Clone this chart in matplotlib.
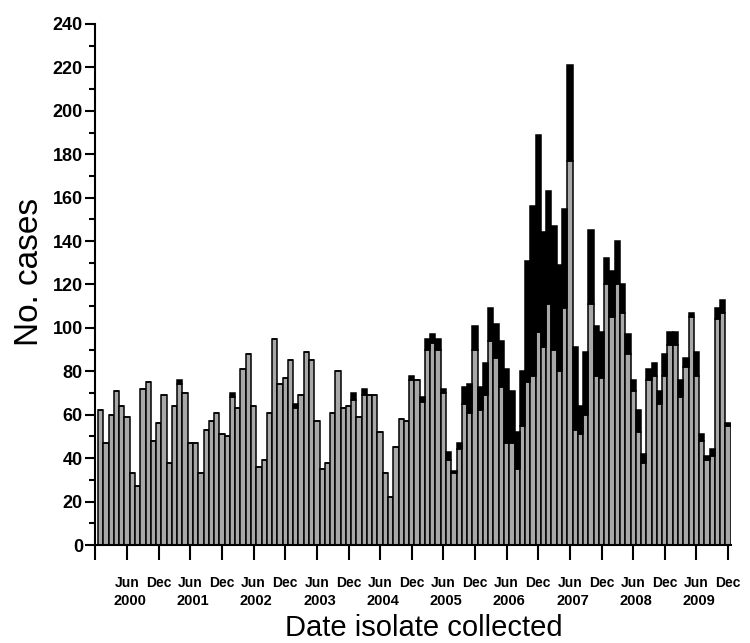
import matplotlib
matplotlib.use("Agg")
import matplotlib.pyplot as plt
import numpy as np
from matplotlib.ticker import MultipleLocator
import matplotlib.transforms as mtransforms

plt.rcParams['font.family'] = ['Liberation Sans', 'DejaVu Sans']

# Monthly totals Jan 2000 - Dec 2009
total_cases = [
    62, 47, 60, 71, 64, 59, 33, 27, 72, 75, 48, 56,          # 2000
    69, 38, 64, 76, 70, 47, 47, 33, 53, 57, 61, 51,          # 2001
    50, 70, 63, 81, 88, 64, 36, 39, 61, 95, 74, 77,          # 2002
    85, 65, 69, 89, 85, 57, 35, 38, 61, 80, 63, 64,          # 2003
    70, 59, 72, 69, 69, 52, 33, 22, 45, 58, 57, 78,          # 2004
    76, 68, 95, 97, 95, 72, 43, 34, 47, 73, 74, 101,         # 2005
    73, 84, 109, 102, 94, 81, 71, 52, 80, 131, 156, 189,     # 2006
    144, 163, 147, 129, 155, 221, 91, 64, 89, 145, 101, 98,  # 2007
    132, 126, 140, 120, 97, 76, 62, 42, 81, 84, 71, 88,      # 2008
    98, 98, 76, 86, 107, 89, 51, 41, 44, 109, 113, 56,       # 2009
]
# Gray (lower) series
gray_cases = [
    62, 47, 60, 71, 64, 59, 33, 27, 72, 75, 48, 56,          # 2000
    69, 38, 64, 74, 70, 47, 47, 33, 53, 57, 61, 51,          # 2001
    50, 68, 63, 81, 88, 64, 36, 39, 61, 95, 74, 77,          # 2002
    85, 63, 69, 89, 85, 57, 35, 38, 61, 80, 63, 64,          # 2003
    67, 59, 69, 69, 69, 52, 33, 22, 45, 58, 57, 76,          # 2004
    76, 66, 90, 93, 90, 70, 39, 33, 44, 65, 61, 90,          # 2005
    62, 69, 94, 86, 73, 47, 47, 35, 55, 75, 78, 98,          # 2006
    91, 111, 90, 80, 109, 177, 53, 51, 60, 111, 78, 77,      # 2007
    120, 105, 120, 107, 88, 71, 52, 38, 76, 78, 65, 78,      # 2008
    92, 92, 68, 82, 105, 78, 48, 39, 41, 104, 107, 55,       # 2009
]
month_tick_labels = ['', 'Jun', 'Dec'] + ['Jun', 'Dec'] * 9
years = ['2000', '2001', '2002', '2003', '2004', '2005', '2006', '2007', '2008', '2009']

total = np.array(total_cases, dtype=float)
gray = np.array(gray_cases, dtype=float)
black = total - gray
x = np.arange(len(total))

fig = plt.figure(figsize=(7.5, 6.43), dpi=100)
ax = fig.add_axes([0.1273, 0.1524, 0.8473, 0.8103])

ax.bar(x, gray, width=1.0, color='#a8a8a8', edgecolor='black', linewidth=1.1)
ax.bar(x, black, bottom=gray, width=1.0, color='black', edgecolor='black', linewidth=1.1)

ax.set_xlim(-1, 119.55)
ax.set_ylim(0, 240)

ax.spines['top'].set_visible(False)
ax.spines['right'].set_visible(False)
for s in ('left', 'bottom'):
    ax.spines[s].set_linewidth(1.5)

ax.set_yticks(np.arange(0, 241, 20))
ax.yaxis.set_minor_locator(MultipleLocator(10))
ax.tick_params(axis='y', which='major', direction='out', length=7, width=1.5, labelsize=13, pad=2)
ax.tick_params(axis='y', which='minor', direction='out', length=4, width=1.5)
for lab in ax.get_yticklabels():
    lab.set_fontweight('bold')

ax.set_xticks(np.arange(-1, 120, 6))
ax.set_xticklabels(month_tick_labels)
ax.tick_params(axis='x', which='major', direction='out', length=11, width=1.5, labelsize=10, pad=11)
for lab in ax.get_xticklabels():
    lab.set_fontweight('bold')

trans = mtransforms.blended_transform_factory(ax.transData, fig.transFigure)
for k, yr in enumerate(years):
    ax.text(5.5 + 12 * k, (643 - 601) / 643, yr, transform=trans, ha='center', va='center',
            fontsize=10.5, fontweight='bold')

fig.text(423.5 / 750, (643 - 636) / 643, 'Date isolate collected', ha='center', va='baseline', fontsize=21)
fig.text(30 / 750, (643 - 272) / 643, 'No. cases', ha='center', va='center', fontsize=24, rotation=90)

fig.savefig('out.png', dpi=100)
